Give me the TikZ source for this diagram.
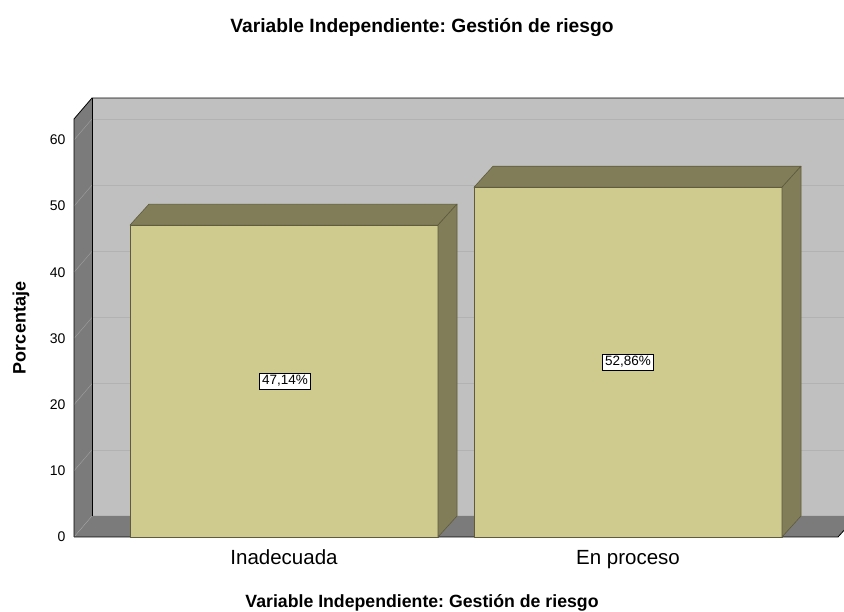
\documentclass[tikz,border=0pt]{standalone}
\usepackage{fontspec}
\setmainfont{Liberation Sans}
\frenchspacing
\definecolor{backwall}{HTML}{C0C0C0}
\definecolor{sidewall}{HTML}{7B7B7B}
\definecolor{gridline}{HTML}{B2B2B2}
\definecolor{sidegrid}{HTML}{A0A0A0}
\definecolor{barfront}{HTML}{CFCA8E}
\definecolor{bardark}{HTML}{817D58}
\definecolor{baredge}{HTML}{5E5B3E}
\tikzset{
  barline/.style={draw=baredge, line width=0.6pt, line join=round},
  valuelabel/.style={draw=black, fill=white, inner sep=2.5pt, font=\fontsize{13.5}{16}\selectfont},
  ticklabel/.style={anchor=east, font=\fontsize{14}{16}\selectfont},
  catlabel/.style={anchor=base, font=\fontsize{20.5}{23}\selectfont},
  titlelabel/.style={font=\bfseries\fontsize{18}{21}\selectfont}
}
\begin{document}
\begin{tikzpicture}[x=1pt,y=1pt]
\useasboundingbox (0,0) rectangle (844,612);
\clip (0,0) rectangle (844,612);
% walls and floor (one unit = 6.617pt, depth = (19,21))
\fill[backwall] (92,96) rectangle (870,514);
\fill[sidewall] (74,75) -- (92,96) -- (92,514) -- (74,493) -- cycle;
\fill[sidewall] (74,75) -- (838,75) -- (857,96) -- (870,96) -- (870,96) -- (92,96) -- cycle;
\foreach \v in {10,20,...,60} {
  \draw[gridline] (92,{96+\v*6.617}) -- (870,{96+\v*6.617});
  \draw[sidegrid] (74,{75+\v*6.617}) -- (92,{96+\v*6.617});
  \node[ticklabel] at (69,{75+\v*6.617}) {\v};
}
\draw[sidegrid] (74,75) -- (92,96);
\node[ticklabel] at (69,75) {0};
\draw[line width=0.8pt] (74,75) -- (74,493) -- (92,514) -- (870,514);
\draw[line width=0.8pt] (92,96) -- (92,514);
\draw[line width=0.8pt] (74,75) -- (838,75) -- (857,96);
% bars
\foreach \xa/\val in {130/47.14, 474/52.86} {
  \pgfmathsetmacro{\xb}{\xa+308}
  \pgfmathsetmacro{\top}{75+\val*6.617}
  \fill[barfront, barline] (\xa,75) rectangle (\xb,\top);
  \fill[bardark, barline] (\xa,\top) -- (\xa+19,\top+21) -- (\xb+19,\top+21) -- (\xb,\top) -- cycle;
  \fill[bardark, barline] (\xb,75) -- (\xb+19,96) -- (\xb+19,\top+21) -- (\xb,\top) -- cycle;
}
\node[valuelabel] (val1) at (285,{75+23.57*6.617}) {47,14\%};
\node[valuelabel] (val2) at (628,{75+26.43*6.617}) {52,86\%};
% labels
\node[catlabel] (cat1) at (284,47) {Inadecuada};
\node[catlabel] (cat2) at (628,47) {En proceso};
\node[titlelabel, font=\bfseries\fontsize{19.2}{22}\selectfont] (title) at (422,584) {Variable Independiente: Gestión de riesgo};
\node[titlelabel, font=\bfseries\fontsize{17.7}{21}\selectfont] (xtitle) at (422,9) {Variable Independiente: Gestión de riesgo};
\node[titlelabel, rotate=90] (ytitle) at (21,284) {Porcentaje};
\end{tikzpicture}
\end{document}
